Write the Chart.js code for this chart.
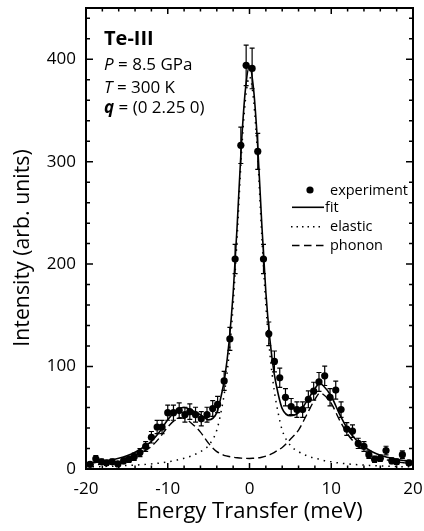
<!DOCTYPE html>
<html lang="en">
<head>
  <meta charset="UTF-8" />
  <title>Te-III IXS spectrum</title>
  <script src="https://cdn.jsdelivr.net/npm/chart.js"></script>
</head>
<body style="margin: 0; padding: 0; background: white;">

<div style="width: 424px; height: 531px; position: relative;">
  <canvas id="spectrum"></canvas>
</div>

<script>
  // measured points (energy in meV, intensity, error)
  const expE = [-19.5, -18.8, -18.1, -17.5, -16.8, -16.1, -15.4, -14.75, -14.1, -13.4, -12.7, -12.0, -11.3, -10.7,
                -10.0, -9.3, -8.6, -7.9, -7.3, -6.6, -5.9, -5.2, -4.5, -3.9, -3.1, -2.4, -1.76, -1.06, -0.41,
                0.32, 1.01, 1.71, 2.36, 3.05, 3.7, 4.4, 5.1, 5.8, 6.5, 7.2, 7.85, 8.5, 9.2, 9.85, 10.55, 11.2,
                11.9, 12.6, 13.3, 14.0, 14.6, 15.3, 16.0, 16.7, 17.4, 18.0, 18.7, 19.5];
  const expI = [4.6, 10, 7, 6, 7, 5, 8, 9.5, 12, 16, 22, 31, 41, 41,
                55, 55, 57, 53, 56, 53, 49, 53, 59, 63, 86, 127, 205, 316, 394,
                391, 310, 205, 132, 105, 89, 70, 61, 58, 58, 68, 76, 85, 91, 70, 77, 58,
                39, 37, 25, 22, 14, 9.5, 10.5, 18, 8, 7, 14, 6];
  const expErr = [2.1, 3.2, 2.6, 2.4, 2.6, 2.2, 2.8, 3.1, 3.5, 4, 4.7, 5.6, 6.4, 6.4,
                  7.4, 7.4, 7.5, 7.3, 7.5, 7.3, 7, 7.3, 7.7, 7.9, 9.3, 11.3, 14.3, 17.8, 19.8,
                  19.8, 17.6, 14.3, 11.5, 10.2, 9.4, 8.4, 7.8, 7.6, 7.6, 8.2, 8.7, 9.2, 9.5, 8.4, 8.8, 7.6,
                  6.2, 6.1, 5, 4.7, 3.7, 3.1, 3.2, 4.2, 2.8, 2.6, 3.7, 2.4];

  // fitted curves
  const curveE = [-20, -19, -18, -17, -16, -15, -14, -13, -12, -11, -10, -9, -8.5, -8, -7, -6, -5, -4, -3.5, -3, -2.5, -2, -1.5, -1, -0.5,
                  0,
                  0.5, 1, 1.5, 2, 2.5, 3, 3.5, 4, 5, 6, 7, 8, 8.6, 9, 10, 11, 12, 13, 14, 15, 16, 17, 18, 19, 20];
  const fitI = [5.5, 6.2, 7.4, 8.7, 10.5, 12.9, 16.3, 21.3, 27, 36.3, 48, 57, 59.5, 60, 57, 53, 48, 55, 70, 91, 124, 171.5, 239, 315.6, 370.4,
                393.3,
                370.5, 315.8, 239.5, 172.5, 126, 94, 73.5, 59, 52, 55, 66, 78.5, 83.6, 81.5, 71, 53.8, 39, 28.8, 21.8, 16.9, 13.5, 11.2, 9.4, 8.2, 7];
  const elasticI = [2, 2.2, 2.4, 2.7, 3, 3.4, 3.8, 4.3, 5, 5.8, 7, 8.5, 9.5, 10.5, 13, 17, 23, 38, 55, 78, 112, 160, 228, 305, 360,
                    383,
                    360, 305, 228, 160, 112, 78, 55, 38, 23, 17, 13, 10.5, 9.6, 8.5, 7, 5.8, 5, 4.3, 3.8, 3.4, 3, 2.7, 2.4, 2.2, 2];
  const phononI = [3.5, 4, 5, 6, 7.5, 9.5, 12.5, 17, 22, 30.5, 41, 48.5, 50, 49.5, 44, 36, 25, 17, 15, 13, 12.2, 11.5, 11, 10.6, 10.4,
                   10.3,
                   10.5, 10.8, 11.5, 12.5, 14, 16, 18.5, 21, 29, 38, 53, 68, 74, 73, 64, 48, 34, 24.5, 18, 13.5, 10.5, 8.5, 7, 6, 5];

  const xTicks = [-20, -10, 0, 10, 20];
  const yTicks = [0, 100, 200, 300, 400];
  const xMinorStep = 2;
  const yMinorStep = 20;

  const FONT = '"Open Sans", sans-serif';

  function pairs(xs, ys) {
    return xs.map((x, i) => ({ x: x, y: ys[i] }));
  }

  // error bars, axes frame with inward ticks, legend and labels
  const framePlugin = {
    id: 'frame',
    beforeDatasetsDraw(chart) {
      const ctx = chart.ctx;
      const x = chart.scales.x, y = chart.scales.y;
      const a = chart.chartArea;
      ctx.save();
      ctx.beginPath();
      ctx.rect(a.left, a.top, a.right - a.left, a.bottom - a.top);
      ctx.clip();
      ctx.strokeStyle = 'black';
      ctx.lineWidth = 1.2;
      for (let i = 0; i < expE.length; i++) {
        const px = x.getPixelForValue(expE[i]);
        const lo = y.getPixelForValue(expI[i] - expErr[i]);
        const hi = y.getPixelForValue(expI[i] + expErr[i]);
        ctx.beginPath();
        ctx.moveTo(px, lo); ctx.lineTo(px, hi);
        ctx.moveTo(px - 2.5, lo); ctx.lineTo(px + 2.5, lo);
        ctx.moveTo(px - 2.5, hi); ctx.lineTo(px + 2.5, hi);
        ctx.stroke();
      }
      ctx.restore();
    },
    afterDraw(chart) {
      const ctx = chart.ctx;
      const x = chart.scales.x, y = chart.scales.y;
      const a = chart.chartArea;
      ctx.save();
      ctx.strokeStyle = 'black';

      // ticks
      ctx.lineWidth = 1.5;
      ctx.beginPath();
      for (let v = x.min; v <= x.max + 0.001; v += xMinorStep) {
        const px = x.getPixelForValue(v);
        const len = xTicks.includes(v) ? 6 : 3.5;
        ctx.moveTo(px, a.bottom); ctx.lineTo(px, a.bottom - len);
        ctx.moveTo(px, a.top); ctx.lineTo(px, a.top + len);
      }
      for (let v = y.min; v <= y.max + 0.001; v += yMinorStep) {
        const py = y.getPixelForValue(v);
        const len = yTicks.includes(v) ? 7 : 4;
        ctx.moveTo(a.left, py); ctx.lineTo(a.left + len, py);
        ctx.moveTo(a.right, py); ctx.lineTo(a.right - len, py);
      }
      ctx.stroke();

      // frame
      ctx.lineWidth = 2;
      ctx.strokeRect(a.left, a.top, a.right - a.left, a.bottom - a.top);

      // y title
      ctx.fillStyle = 'black';
      ctx.save();
      ctx.translate(29, 248);
      ctx.rotate(-Math.PI / 2);
      ctx.font = '21.3px ' + FONT;
      ctx.textAlign = 'center';
      ctx.textBaseline = 'alphabetic';
      ctx.fillText('Intensity (arb. units)', 0, 0);
      ctx.restore();

      // sample info
      ctx.textAlign = 'left';
      ctx.textBaseline = 'alphabetic';
      const tx = 104;
      ctx.font = 'bold 20px ' + FONT;
      ctx.fillText('Te-III', tx, 45);
      const lines = [
        ['italic 17px ', 'P', ' = 8.5 GPa', 69.5],
        ['italic 17px ', 'T', ' = 300 K', 93],
        ['italic bold 17px ', 'q', ' = (0 2.25 0)', 113]
      ];
      lines.forEach(l => {
        ctx.font = l[0] + FONT;
        ctx.fillText(l[1], tx, l[3]);
        const w = ctx.measureText(l[1]).width;
        ctx.font = '17px ' + FONT;
        ctx.fillText(l[2], tx + w, l[3]);
      });

      // legend
      ctx.font = '14.5px ' + FONT;
      ctx.fillText('experiment', 330, 195);
      ctx.fillText('fit', 325, 211.7);
      ctx.fillText('elastic', 330, 231);
      ctx.fillText('phonon', 330, 250);
      ctx.beginPath();
      ctx.arc(310, 190, 3.6, 0, Math.PI * 2);
      ctx.fill();
      ctx.lineWidth = 1.6;
      ctx.beginPath();
      ctx.moveTo(292, 207.3); ctx.lineTo(324, 207.3);
      ctx.stroke();
      ctx.lineWidth = 1.5;
      ctx.setLineDash([1.5, 4]);
      ctx.beginPath();
      ctx.moveTo(291, 226.7); ctx.lineTo(324, 226.7);
      ctx.stroke();
      ctx.setLineDash([7.5, 4.5]);
      ctx.beginPath();
      ctx.moveTo(292, 245.5); ctx.lineTo(324, 245.5);
      ctx.stroke();
      ctx.restore();
    }
  };

  const chart = new Chart(document.getElementById('spectrum').getContext('2d'), {
    type: 'scatter',
    data: {
      datasets: [
        {
          label: 'experiment',
          data: pairs(expE, expI),
          pointRadius: 3.6,
          pointBackgroundColor: 'black',
          pointBorderWidth: 0,
          showLine: false
        },
        {
          label: 'fit',
          type: 'line',
          data: pairs(curveE, fitI),
          borderColor: 'black',
          borderWidth: 1.6,
          pointRadius: 0,
          cubicInterpolationMode: 'monotone',
          fill: false
        },
        {
          label: 'elastic',
          type: 'line',
          data: pairs(curveE, elasticI),
          borderColor: 'black',
          borderWidth: 1.5,
          borderDash: [1.5, 5],
          pointRadius: 0,
          cubicInterpolationMode: 'monotone',
          fill: false
        },
        {
          label: 'phonon',
          type: 'line',
          data: pairs(curveE, phononI),
          borderColor: 'black',
          borderWidth: 1.4,
          borderDash: [8, 4],
          pointRadius: 0,
          cubicInterpolationMode: 'monotone',
          fill: false
        }
      ]
    },
    options: {
      responsive: true,
      maintainAspectRatio: false,
      animation: false,
      layout: { padding: { left: 0, right: 11, top: 8, bottom: 0 } },
      plugins: {
        legend: { display: false },
        tooltip: { enabled: false }
      },
      scales: {
        x: {
          type: 'linear',
          min: -20,
          max: 20,
          afterBuildTicks: s => { s.ticks = xTicks.map(v => ({ value: v })); },
          afterFit: s => { s.height = 62; s.paddingLeft = 0; s.paddingRight = 0; },
          grid: { display: false, drawTicks: false },
          border: { display: false },
          ticks: { color: 'black', font: { family: FONT, size: 17 }, padding: 10, maxRotation: 0 },
          title: {
            display: true,
            text: 'Energy Transfer (meV)',
            color: 'black',
            font: { family: FONT, size: 22 },
            padding: { top: 0, bottom: 6 }
          }
        },
        y: {
          type: 'linear',
          min: 0,
          max: 450,
          afterBuildTicks: s => { s.ticks = yTicks.map(v => ({ value: v })); },
          afterFit: s => { s.width = 86; s.paddingTop = 0; s.paddingBottom = 0; },
          grid: { display: false, drawTicks: false },
          border: { display: false },
          ticks: { color: 'black', font: { family: FONT, size: 17 }, padding: 10 }
        }
      }
    },
    plugins: [framePlugin]
  });
</script>
</body>
</html>
